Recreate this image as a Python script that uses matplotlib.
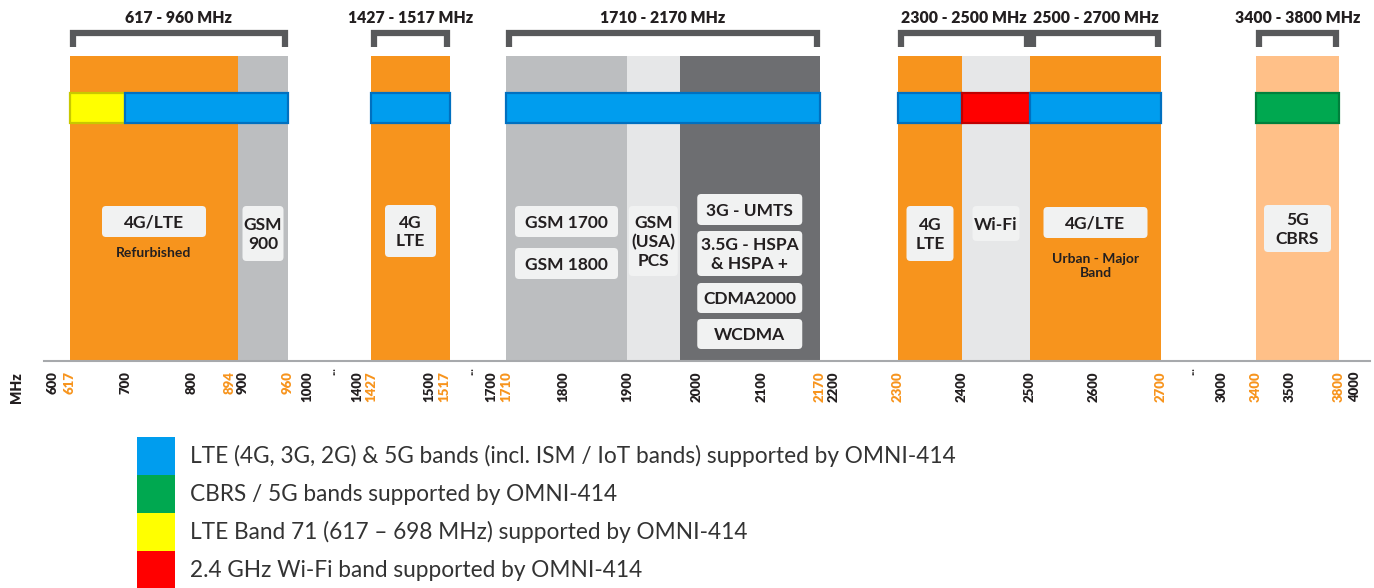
import numpy as np
import matplotlib.pyplot as plt
from matplotlib.patches import Rectangle, FancyBboxPatch
from matplotlib.transforms import offset_copy

plt.rcParams['font.family'] = ['Lato', 'DejaVu Sans']

# the frequency axis of the picture is broken / stretched: MHz -> pixel column
AXIS_MHZ = [520, 600, 617, 700, 800, 894, 900, 960, 1000, 1400, 1427, 1500, 1517,
            1700, 1710, 1800, 1900, 2000, 2100, 2170, 2200, 2300, 2400, 2500,
            2600, 2700, 3000, 3400, 3500, 3800, 4000, 4250]
AXIS_PX = [0, 53, 70, 126, 192, 238, 243, 288, 307, 357, 371, 429, 450,
           491, 506, 563, 627, 697, 762, 820, 834, 898, 962, 1030,
           1094, 1161, 1222, 1256, 1290, 1339, 1355, 1374]


def fwd(f):
    return np.interp(f, AXIS_MHZ, AXIS_PX)


def inv(p):
    return np.interp(p, AXIS_PX, AXIS_MHZ)


# spectrum blocks (MHz)
BLOCK_LO = [617, 894, 1427, 1710, 1900, 1975, 2300, 2400, 2500, 3400]
BLOCK_HI = [894, 960, 1517, 1900, 1975, 2170, 2400, 2500, 2700, 3800]
BLOCK_KIND = ['lte', 'gsm', 'lte', 'gsm', 'pcs', '3g', 'lte', 'wifi', 'lte', 'cbrs']

# bands supported by OMNI-414
SUPP_LO = [617, 698, 1427, 1710, 2300, 2400, 2500, 3400]
SUPP_HI = [698, 960, 1517, 2170, 2400, 2500, 2700, 3800]
SUPP_KIND = ['b71', 'lte', 'lte', 'lte', 'lte', 'wifi', 'lte', 'cbrs']

# brackets on top
RANGE_LO = [617, 1427, 1710, 2300, 2500, 3400]
RANGE_HI = [960, 1517, 2170, 2500, 2700, 3800]

TICKS_BLACK = [600, 700, 800, 900, 1000, 1400, 1500, 1700, 1800, 1900, 2000,
               2100, 2200, 2400, 2500, 2600, 3000, 3500, 4000]
TICKS_ORANGE = [617, 894, 960, 1427, 1517, 1710, 2170, 2300, 2700, 3400, 3800]
GAPS = [(1000, 1400), (1517, 1700), (2700, 3000)]

# white label boxes, and which block they sit in
BOX_TEXT = ['4G/LTE', 'GSM\n900', '4G\nLTE', 'GSM 1700', 'GSM 1800', 'GSM\n(USA)\nPCS',
            '3G - UMTS', '3.5G - HSPA\n& HSPA +', 'CDMA2000', 'WCDMA',
            '4G\nLTE', 'Wi-Fi', '4G/LTE', '5G\nCBRS']
BOX_BLOCK = [0, 1, 2, 3, 3, 4, 5, 5, 5, 5, 6, 7, 8, 9]
NOTE_TEXT = ['Refurbished', 'Urban - Major\nBand']
NOTE_BLOCK = [0, 8]

LEGEND_TEXT = ['LTE (4G, 3G, 2G) & 5G bands (incl. ISM / IoT bands) supported by OMNI-414',
               'CBRS / 5G bands supported by OMNI-414',
               'LTE Band 71 (617 \u2013 698 MHz) supported by OMNI-414',
               '2.4 GHz Wi-Fi band supported by OMNI-414']
LEGEND_KIND = ['lte', 'cbrs', 'b71', 'wifi']

# ---- styles / layout
BLOCK_COL = {'lte': '#F7941D', 'gsm': '#BCBEC0', 'pcs': '#E6E7E8',
             '3g': '#6D6E71', 'wifi': '#E6E7E8', 'cbrs': '#FFC088'}
SUPP_COL = {'lte': ('#009DEE', '#0070C0'), 'cbrs': ('#00A850', '#00803C'),
            'b71': ('#FFFF00', '#C8C800'), 'wifi': ('#FF0000', '#C00000')}
# width, top, bottom (pixels)
BOX_GEOM = [(104, 206, 237), (41, 206, 261), (51, 205, 257), (103, 206, 237),
            (103, 248, 279), (49, 206, 276), (105, 194, 225), (105, 231, 276),
            (105, 283, 313), (105, 319, 349), (47, 206, 261), (47, 206, 241),
            (104, 207, 238), (67, 205, 252)]
NOTE_Y = [253, 266]
LABEL_NUDGE = {894: -8, 1517: -6}   # tick labels pushed left so they don't collide
TXT = '#231F20'
ORANGE = '#F7941D'

fig = plt.figure(figsize=(13.74, 5.88), dpi=100)
ax = fig.add_axes([0, 0, 1, 1])
ax.set_xscale('function', functions=(fwd, inv))
ax.set_xlim(AXIS_MHZ[0], AXIS_MHZ[-1])
ax.set_ylim(588, 0)
ax.axis('off')

for lo, hi, k in zip(BLOCK_LO, BLOCK_HI, BLOCK_KIND):
    ax.add_patch(Rectangle((lo, 56), hi - lo, 304, facecolor=BLOCK_COL[k], lw=0))

for lo, hi, k in zip(SUPP_LO, SUPP_HI, SUPP_KIND):
    fc, ec = SUPP_COL[k]
    ax.add_patch(Rectangle((lo, 92.5), hi - lo, 30, facecolor=fc, edgecolor=ec, lw=1.6))

# baseline
ax.plot([inv(44), inv(1370)], [361, 361], color='#A7A9AC', lw=1.5)

for lo, hi in zip(RANGE_LO, RANGE_HI):
    a = inv(fwd(lo) + 3)
    b = inv(fwd(hi) - 3)
    ax.plot([a, a, b, b], [47, 32.5, 32.5, 47], color='#58595B', lw=4.5,
            solid_joinstyle='miter', solid_capstyle='butt')
    ax.text(inv((fwd(lo) + fwd(hi)) / 2), 18, '%d - %d MHz' % (lo, hi),
            ha='center', va='center', fontsize=11.3, fontweight='heavy', color=TXT)

for ticks, col in [(TICKS_BLACK, TXT), (TICKS_ORANGE, ORANGE)]:
    for t in ticks:
        tr = offset_copy(ax.transData, fig=fig, x=LABEL_NUDGE.get(t, 0), y=0, units='dots')
        ax.text(t, 371, str(t), rotation=90, ha='center', va='top', transform=tr,
                fontsize=9.5, fontweight='heavy', color=col)
for a, b in GAPS:
    ax.text(inv((fwd(a) + fwd(b)) / 2), 367, '...', rotation=90, ha='center',
            va='top', fontsize=8, fontweight='bold', color=TXT)
ax.text(inv(17), 372, 'MHz', rotation=90, ha='center', va='top',
        fontsize=10, fontweight='heavy', color=TXT)

# overlay in pixel units for the rounded label boxes
ov = fig.add_axes([0, 0, 1, 1])
ov.set_xlim(0, 1374)
ov.set_ylim(588, 0)
ov.axis('off')
ov.patch.set_alpha(0)

for txt, bi, (w, top, bot) in zip(BOX_TEXT, BOX_BLOCK, BOX_GEOM):
    cx = (fwd(BLOCK_LO[bi]) + fwd(BLOCK_HI[bi])) / 2
    ov.add_patch(FancyBboxPatch((cx - w / 2, top), w, bot - top,
                                boxstyle='round,pad=0,rounding_size=4',
                                facecolor='#F1F2F2', lw=0))
    ov.text(cx, (top + bot) / 2 + 1, txt, ha='center', va='center', fontsize=12.5,
            fontweight='bold', color=TXT, linespacing=1.2)

for txt, bi, y in zip(NOTE_TEXT, NOTE_BLOCK, NOTE_Y):
    cx = (fwd(BLOCK_LO[bi]) + fwd(BLOCK_HI[bi])) / 2
    ov.text(cx, y, txt, ha='center', va='center', fontsize=10,
            fontweight='bold', color=TXT, linespacing=1.15)

# legend: stacked squares
handles = [Rectangle((0, 0), 1, 1, facecolor=SUPP_COL[k][0], lw=0) for k in LEGEND_KIND]
fig.legend(handles, LEGEND_TEXT, loc='upper left',
           bbox_to_anchor=(137 / 1374, 1 - 437 / 588), frameon=False,
           fontsize=16.3, handlelength=1.69, handleheight=2.2, labelspacing=0,
           handletextpad=0.66, borderpad=0, borderaxespad=0, labelcolor='#333333')

fig.savefig('out.png', dpi=100)
